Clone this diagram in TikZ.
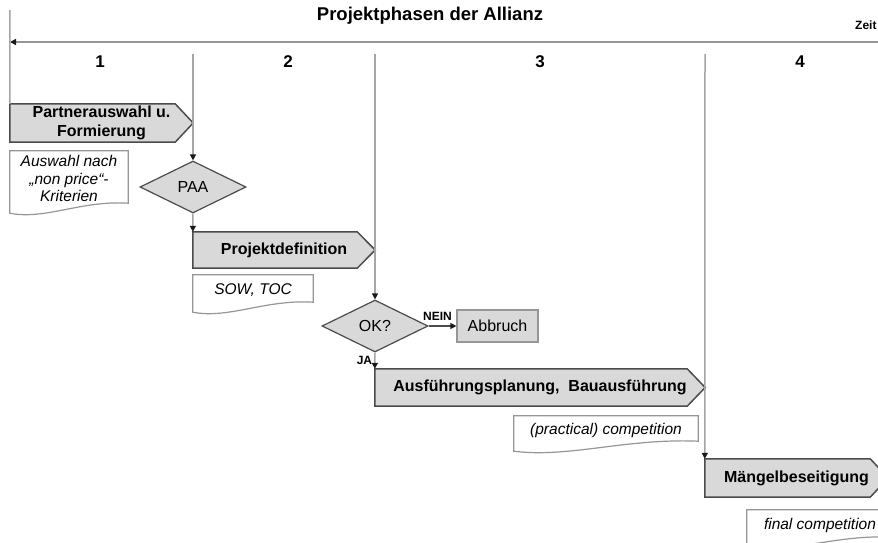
\documentclass[tikz,border=0pt]{standalone}
\usepackage{fontspec}
\setmainfont{Liberation Sans}
\usetikzlibrary{calc,shapes.geometric,arrows.meta,backgrounds}

\definecolor{phaseline}{RGB}{165,165,165}
\definecolor{axisline}{RGB}{150,150,150}
\definecolor{boxfill}{RGB}{217,217,217}
\definecolor{boxedge}{RGB}{75,75,75}
\definecolor{noteedge}{RGB}{150,150,150}
\definecolor{tipcol}{RGB}{25,25,25}

\tikzset{
  phaseline/.style={draw=phaseline, line width=1.5pt},
  axis/.style={draw=axisline, line width=2pt},
  flowtip/.style={-{Triangle[length=6pt,width=6pt,color=tipcol]}},
  stagetext/.style={inner sep=0pt, align=center,
    font=\fontsize{16}{18.5}\selectfont\bfseries},
  stageshape/.style={draw=boxedge, fill=boxfill, line width=1.5pt},
  decision/.style={diamond, draw=boxedge, fill=boxfill, line width=1.2pt,
    inner sep=0pt, minimum width=106, minimum height=52,
    font=\fontsize{16}{19}\selectfont},
  endbox/.style={rectangle, draw=noteedge, fill=boxfill, line width=1.2pt,
    minimum width=81, minimum height=32, inner sep=0pt,
    font=\fontsize{16}{19}\selectfont},
  notetext/.style={inner sep=0pt, align=center,
    font=\fontsize{15.5}{17.5}\selectfont\itshape},
  noteline/.style={draw=noteedge, line width=1.2pt, fill=white},
  flag/.style={font=\fontsize{12}{14}\selectfont\bfseries, inner sep=2pt},
  phasenum/.style={font=\fontsize{17}{20}\selectfont\bfseries},
}

% stage box with a pointed right end: name, left x, tip x, middle y, height, text
\newcommand\stagebox[6]{%
  \node[stagetext, minimum width={#3-#2}, minimum height=#5] (#1)
    at ({(#2+#3)/2},#4) {#6};
  \begin{scope}[on background layer]
    \draw[stageshape] (#1.north west) -- ($(#1.north east)+(-18,0)$)
      -- (#1.east) -- ($(#1.south east)+(-18,0)$) -- (#1.south west) -- cycle;
  \end{scope}}

% document note with a wavy lower edge: name, centre x, centre y, width, height, text
\newcommand\docnote[6]{%
  \node[notetext, minimum width=#4, minimum height=#5] (#1) at (#2,#3) {#6};
  \begin{scope}[on background layer]
    \draw[noteline] ($(#1.south west)+(0,7)$) -- (#1.north west)
      -- (#1.north east) -- ($(#1.south east)+(0,-3)$)
      .. controls ($(#1.south west)!0.6!(#1.south east)+(0,-6)$)
             and ($(#1.south west)!0.3!(#1.south east)+(0,14)$)
      .. ($(#1.south west)+(0,7)$) -- cycle;
  \end{scope}}

\begin{document}
\begin{tikzpicture}[x=1pt, y=-1pt]
  \useasboundingbox (0,0) rectangle (878,543);
  \clip (0,0) rectangle (878,543);

  % heading and time axis
  \node[font=\fontsize{18.5}{22}\selectfont\bfseries] (title) at (430,16)
    {Projektphasen der Allianz};
  \node[font=\fontsize{12}{14}\selectfont\bfseries, anchor=west, inner sep=0pt]
    (zeit) at (855,25) {Zeit};
  \coordinate (tEnd) at (878,42);
  \coordinate (tStart) at (10,42);
  \draw[axis, -{Triangle[length=6pt,width=6pt,color=tipcol]}] (tEnd) -- (tStart);

  % phase numbers
  \node[phasenum] (n1) at (100,62) {1};
  \node[phasenum] (n2) at (288,62) {2};
  \node[phasenum] (n3) at (540,62) {3};
  \node[phasenum] (n4) at (800,62) {4};

  % phase start markers
  \coordinate (l0top) at (10,10);
  \coordinate (l1top) at (193,54);
  \coordinate (l2top) at (375,54);
  \coordinate (l3top) at (705,54);

  % stages
  \stagebox{p1}{10}{193}{123}{38}{Partnerauswahl u.\\Formierung}
  \stagebox{p2}{193}{375}{250}{36}{Projektdefinition}
  \stagebox{p3}{375}{705}{387.5}{37}{Ausführungsplanung,\ \ Bauausführung}
  \stagebox{p4}{705}{888}{478}{38}{Mängelbeseitigung}

  % decisions
  \node[decision] (paa) at (193,187) {PAA};
  \node[decision] (ok) at (375,326) {OK?};
  \node[endbox] (abb) at (497.5,326) {Abbruch};

  % notes
  \docnote{d1}{69}{178.5}{118}{55}{Auswahl nach\\„non price“-\\Kriterien}
  \docnote{d2}{253}{290}{120}{30}{SOW, TOC}
  \docnote{d3}{606}{430}{184}{28}{(practical) competition}
  \docnote{d4}{820}{525}{146}{30}{final competition}

  % connectors
  \draw[phaseline] (l0top) -- (p1.north west);
  \draw[phaseline, flowtip] (l1top) -- (paa.north);
  \draw[phaseline, flowtip] (paa.south) -- (p2.north west);
  \draw[phaseline, flowtip] (l2top) -- (ok.north);
  \draw[phaseline, flowtip] (ok.south) -- (p3.north west)
    node[flag, midway, left] {JA};
  \draw[draw=boxedge, line width=1.2pt, flowtip] (ok.east) -- (abb.west)
    node[flag, pos=0.32, above=3pt] {NEIN};
  \draw[phaseline, flowtip] (l3top) -- (p4.north west);
\end{tikzpicture}
\end{document}
